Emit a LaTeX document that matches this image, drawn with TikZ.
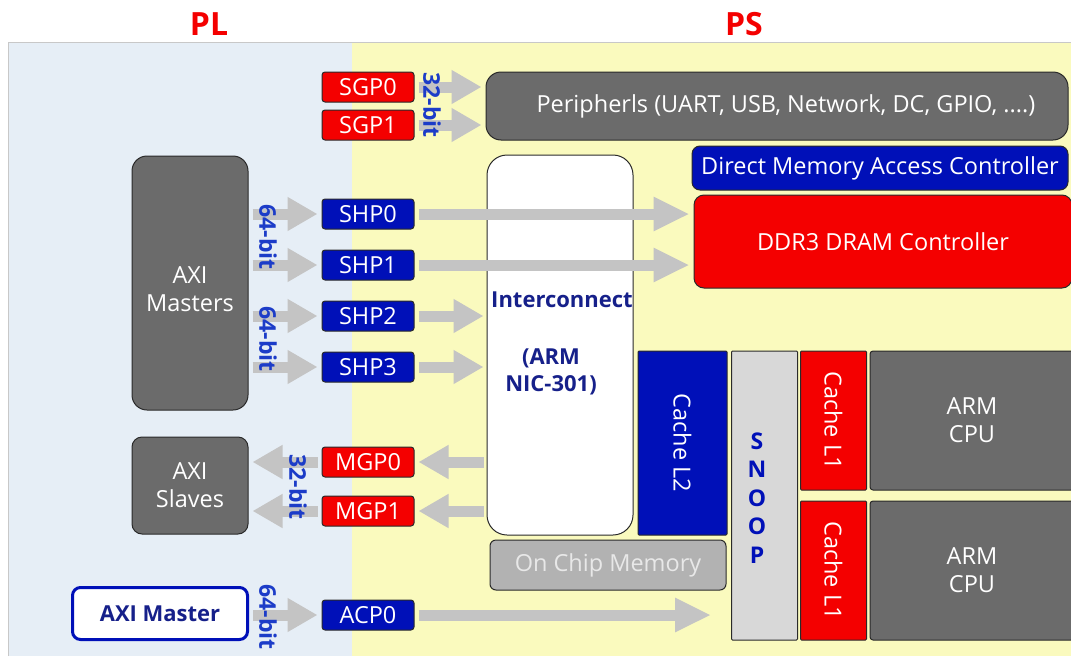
\documentclass[tikz,border=0pt]{standalone}
\usepackage{fontspec}
\setmainfont{Open Sans}
\usetikzlibrary{arrows.meta}

\definecolor{plbg}{HTML}{E6EEF6}
\definecolor{psbg}{HTML}{FAFABE}
\definecolor{frameline}{HTML}{C8C8C8}
\definecolor{boxred}{HTML}{F40000}
\definecolor{boxblue}{HTML}{0010B8}
\definecolor{boxgray}{HTML}{6B6B6B}
\definecolor{buscol}{HTML}{C4C4C4}
\definecolor{navytext}{HTML}{16208A}
\definecolor{bitblue}{HTML}{1C3CC8}
\definecolor{snoopfill}{HTML}{D8D8D8}
\definecolor{ocmfill}{HTML}{B2B2B2}
\definecolor{ocmtext}{HTML}{E8E8E8}
\definecolor{edge}{HTML}{2A2A2A}

\newcommand\regfont{\fontsize{23.5}{28}\selectfont}
\newcommand\boldfont{\bfseries\fontsize{22}{27}\selectfont}

\tikzset{
  blk/.style={draw=edge, line width=1pt, rounded corners=3pt, inner sep=0pt,
              text=white, align=center, font=\regfont},
  port/.style={blk, minimum width=92pt, minimum height=30pt},
  redport/.style={port, fill=boxred},
  blueport/.style={port, fill=boxblue},
  vtext/.style={text=white, rotate=-90, font=\regfont},
  bus/.style={draw=buscol, line width=11pt,
              -{Triangle[length=30pt,width=32pt]}},
  longbus/.style={bus, -{Triangle[length=36pt,width=32pt]}},
  bitlabel/.style={text=bitblue, font=\bfseries\fontsize{23}{25}\selectfont,
                   rotate=-90, inner sep=0pt},
  title/.style={text=boxred, font=\bfseries\fontsize{32}{36}\selectfont}
}

\begin{document}
\begin{tikzpicture}[x=1pt,y=-1pt]
\useasboundingbox (0,0) rectangle (1071,656);

% regions
\fill[white] (0,0) rectangle (1071,656);
\fill[plbg] (8,42) rectangle (352,656);
\fill[psbg] (352,42) rectangle (1071,656);
\draw[frameline, line width=1pt] (8,656) -- (8,42) -- (1071,42);

\node[title] (pl) at (209,24) {PL};
\node[title] (ps) at (744,24) {PS};

% general purpose slave ports and peripherals
\node[redport] (sgp0) at (368,87) {SGP0};
\node[redport] (sgp1) at (368,125) {SGP1};
\node[blk, fill=boxgray, rounded corners=15pt, minimum width=582pt,
      minimum height=68pt] (periph) at (777,106)
      {\hspace*{18pt}Peripherls (UART, USB, Network, DC, GPIO, ....)};

% memory controllers
\node[blk, fill=boxblue, rounded corners=8pt, minimum width=376pt,
      minimum height=44pt] (dma) at (880,168) {Direct Memory Access Controller};
\node[blk, fill=boxred, rounded corners=10pt, minimum width=378pt,
      minimum height=93pt] (ddr) at (883,241.5) {DDR3 DRAM Controller};

% interconnect
\node[blk, fill=white, rounded corners=20pt, minimum width=146pt,
      minimum height=380pt] (inter) at (560,345) {};
\node[text=navytext, font=\boldfont, inner sep=0pt]
      (intertxt) at (562,300) {Interconnect};
\node[text=navytext, font=\boldfont, inner sep=0pt,
      align=center] (armtxt) at (551,372) {(ARM\\NIC-301)};

% PL masters and high performance ports
\node[blk, fill=boxgray, rounded corners=15pt, minimum width=116pt,
      minimum height=254pt] (axim) at (190,283) {};
\node[text=white, align=center, font=\regfont] (axtxt) at (190,289)
      {AXI\\Masters};
\node[blueport] (shp0) at (368,214) {SHP0};
\node[blueport] (shp1) at (368,265) {SHP1};
\node[blueport] (shp2) at (368,316) {SHP2};
\node[blueport] (shp3) at (368,367) {SHP3};

% caches and processors
\node[blk, fill=boxblue, rounded corners=1pt, minimum width=89pt,
      minimum height=184pt] (l2) at (682.5,443) {};
\node[vtext] (l2txt) at (l2) {Cache L2};
\node[blk, fill=snoopfill, rounded corners=1pt, minimum width=66pt,
      minimum height=289pt] (snoop) at (764.5,495.5) {};
\node[text=boxblue, align=center, inner sep=0pt,
      font=\bfseries\fontsize{23}{28.5}\selectfont] (snooptxt) at (757,498)
      {S\\N\\O\\O\\P};
\node[blk, fill=boxred, rounded corners=1pt, minimum width=66pt,
      minimum height=139pt] (l1a) at (833.5,420.5) {};
\node[vtext] (l1atxt) at (l1a) {Cache L1};
\node[blk, fill=boxred, rounded corners=1pt, minimum width=66pt,
      minimum height=139pt] (l1b) at (833.5,570.5) {};
\node[vtext] (l1btxt) at (l1b) {Cache L1};
\node[blk, fill=boxgray, rounded corners=3pt, minimum width=204pt,
      minimum height=139pt] (cpua) at (972,420.5) {ARM\\CPU};
\node[blk, fill=boxgray, rounded corners=3pt, minimum width=204pt,
      minimum height=139pt] (cpub) at (972,570.5) {ARM\\CPU};

% on chip memory
\node[blk, fill=ocmfill, text=ocmtext, rounded corners=6pt, minimum width=236pt,
      minimum height=50pt] (ocm) at (608,565) {On Chip Memory};

% PL slaves and master ports
\node[blk, fill=boxgray, rounded corners=10pt, minimum width=116pt,
      minimum height=97pt] (axis) at (190,485.5) {AXI\\Slaves};
\node[redport] (mgp0) at (368,462) {MGP0};
\node[redport] (mgp1) at (368,511) {MGP1};

% accelerator coherency port
\node[blk, fill=white, draw=boxblue, line width=3pt, rounded corners=8pt,
      minimum width=175pt, minimum height=52pt, text=navytext,
      font=\boldfont] (axmaster) at (160,613.5) {AXI Master};
\node[blueport] (acp0) at (368,615) {ACP0};

% buses
\draw[bus, shorten <=4pt, shorten >=4pt] (sgp0.east) -- (sgp0.east -| periph.west);
\draw[bus, shorten <=4pt, shorten >=4pt] (sgp1.east) -- (sgp1.east -| periph.west);

\foreach \p in {shp0,shp1,shp2,shp3}
  \draw[bus, shorten <=4pt, shorten >=4pt] (axim.east |- \p.west) -- (\p.west);

\draw[longbus, shorten <=4pt, shorten >=4pt] (shp0.east) -- (shp0.east -| ddr.west);
\draw[longbus, shorten <=4pt, shorten >=4pt] (shp1.east) -- (shp1.east -| ddr.west);
\draw[bus, shorten <=4pt, shorten >=3pt] (shp2.east) -- (shp2.east -| inter.west);
\draw[bus, shorten <=4pt, shorten >=3pt] (shp3.east) -- (shp3.east -| inter.west);

\draw[bus, shorten <=3pt, shorten >=4pt] (mgp0.east -| inter.west) -- (mgp0.east);
\draw[bus, shorten <=3pt, shorten >=4pt] (mgp1.east -| inter.west) -- (mgp1.east);
\draw[bus, shorten <=4pt, shorten >=4pt] (mgp0.west) -- (mgp0.west -| axis.east);
\draw[bus, shorten <=4pt, shorten >=4pt] (mgp1.west) -- (mgp1.west -| axis.east);

\draw[bus, shorten <=4pt, shorten >=4pt] (axmaster.east |- acp0.west) -- (acp0.west);
\draw[longbus, shorten <=4pt, shorten >=20pt] (acp0.east) -- (acp0.east -| snoop.west);

% bus widths, set over the buses
\node[bitlabel] (bit1) at (432,105) {32-bit};
\node[bitlabel] (bit2) at (268,237) {64-bit};
\node[bitlabel] (bit3) at (268,339) {64-bit};
\node[bitlabel] (bit4) at (298,487) {32-bit};
\node[bitlabel] (bit5) at (268,617) {64-bit};
\end{tikzpicture}
\end{document}
